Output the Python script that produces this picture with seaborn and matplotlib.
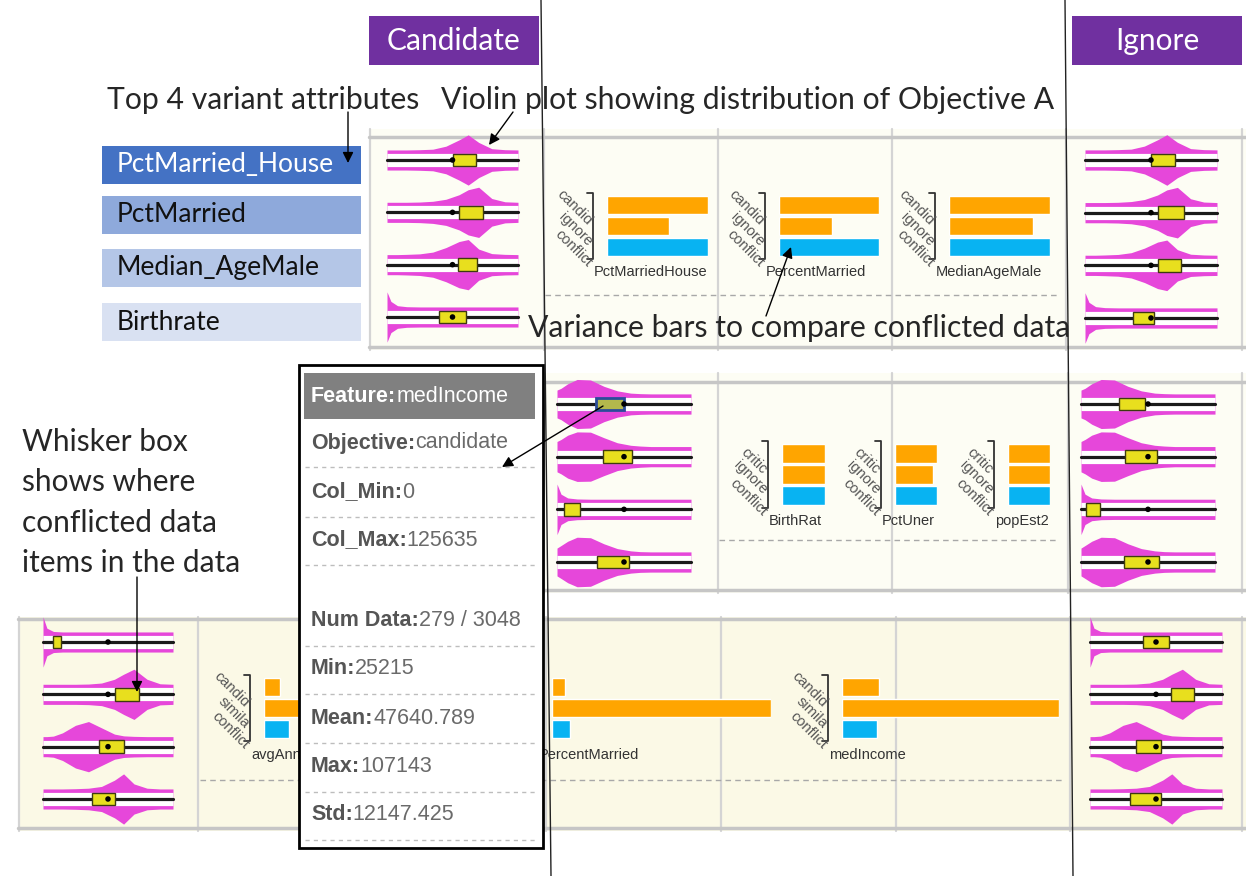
import numpy as np
import pandas as pd
import matplotlib
matplotlib.use('Agg')
import matplotlib.pyplot as plt
import matplotlib.transforms as mtransforms
from matplotlib.patches import Rectangle
import seaborn as sns

sns.set_theme(style='white')
plt.rcParams['font.family'] = ['Lato', 'DejaVu Sans']

W, H = 1246, 876
PINK = '#E647DA'
YELLOW = '#E8DF1E'
ORANGE = '#FFA500'
BLUE = '#08B3F2'
PURPLE = '#7030A0'
UI_FONT = ['Liberation Sans', 'DejaVu Sans']

# ---------------- data ----------------
top_attrs = ['PctMarried_House', 'PctMarried', 'Median_AgeMale', 'Birthrate']
attr_colors = ['#4472C4', '#8EA9DB', '#B4C6E7', '#D9E1F2']
attr_text = ['white', '#111111', '#111111', '#111111']

# density knots (fraction of attribute range) and relative violin widths
dens_x = [0, .03, .08, .15, .25, .35, .45, .55, .62, .7, .8, .9, 1.0]

dens_b1 = [
    [.40, .40, .40, .40, .41, .43, .55, .80, 1.0, .70, .45, .41, .40],
    [.40, .40, .40, .40, .41, .44, .52, .70, .90, 1.0, .55, .42, .40],
    [.40, .40, .40, .41, .43, .50, .68, .92, 1.0, .62, .44, .41, .40],
    [1.0, .62, .45, .41, .40, .40, .40, .40, .40, .40, .40, .40, .40],
]
dens_b2 = [
    [.55, .62, .80, .97, .95, .70, .52, .43, .41, .40, .40, .40, .40],
    [.60, .68, .85, .98, .97, .75, .55, .45, .42, .40, .40, .40, .40],
    [1.0, .60, .45, .41, .40, .40, .40, .40, .40, .40, .40, .40, .40],
    [.55, .65, .82, .98, .96, .72, .53, .44, .41, .40, .40, .40, .40],
]
dens_b3 = [
    [1.0, .55, .42, .40, .40, .40, .40, .40, .40, .40, .40, .40, .40],
    [.40, .40, .40, .40, .40, .41, .45, .60, .80, 1.0, .60, .42, .40],
    [.40, .40, .42, .55, .85, 1.0, .75, .50, .43, .41, .40, .40, .40],
    [.40, .40, .40, .40, .41, .43, .50, .75, 1.0, .60, .43, .40, .40],
]

# whisker boxes (q1, q3) and overall mean dot, candidate / ignore columns
q1_b1_cand = [.50, .55, .54, .40]
q3_b1_cand = [.68, .73, .69, .60]
q1_b1_ign = [.50, .55, .55, .36]
q3_b1_ign = [.68, .75, .73, .52]
q1_b2_cand = [.29, .34, .05, .30]
q3_b2_cand = [.50, .56, .17, .54]
q1_b2_ign = [.28, .33, .04, .32]
q3_b2_ign = [.48, .57, .14, .58]
q1_b3_cand = [.08, .55, .43, .38]
q3_b3_cand = [.14, .74, .62, .55]
q1_b3_ign = [.40, .61, .35, .30]
q3_b3_ign = [.60, .79, .54, .54]
mean_dot = [.50, .50, .50, .50]

# variance bars
bar_cats_1 = ['candid', 'ignore', 'conflict']
bar_names_1 = ['PctMarriedHouse', 'PercentMarried', 'MedianAgeMale']
bar_vals_1 = [[1.0, 0.61, 1.0], [1.0, 0.53, 1.0], [1.0, 0.83, 1.0]]
bar_cats_2 = ['critic', 'ignore', 'conflict']
bar_names_2 = ['BirthRat', 'PctUner', 'popEst2']
bar_vals_2 = [[1.0, 1.0, 1.0], [1.0, 0.91, 1.0], [1.0, 1.0, 1.0]]
bar_cats_3 = ['candid', 'simila', 'conflict']
bar_names_3 = ['avgAnn', 'PercentMarried', 'medIncome']
bar_vals_3 = [[0.075, 1.0, 0.115], [0.06, 1.0, 0.08], [0.17, 1.0, 0.16]]
bar_colors = [ORANGE, ORANGE, BLUE]

# tooltip
tip_feature = 'medIncome'
tip_labels = ['Objective:', 'Col_Min:', 'Col_Max:', 'Num Data:', 'Min:', 'Mean:', 'Max:', 'Std:']
tip_values = ['candidate', '0', '125635', '279 / 3048', '25215', '47640.789', '107143', '12147.425']

# ---------------- figure ----------------
fig = plt.figure(figsize=(W / 100, H / 100), dpi=100)


def px_axes(x0, y0, x1, y1, **kw):
    return fig.add_axes([x0 / W, 1 - y1 / H, (x1 - x0) / W, (y1 - y0) / H], **kw)


base = px_axes(0, 0, W, H, zorder=0)
base.set_xlim(0, W)
base.set_ylim(H, 0)
base.axis('off')

# panels: (x0, x1, y0, y1, top line, bottom line, bg, vertical grid)
panels = [
    (369, W, 129, 350, 137, 347, '#FDFDF4', [370, 544, 718, 892, 1066, 1242]),
    (545, W, 373, 593, 382, 590, '#FDFDF4', [544, 718, 892, 1068, 1242]),
    (18, W, 617, 831, 619, 828, '#FBF9E6', [19, 198, 372, 546, 721, 896, 1070, 1242]),
]
for x0, x1, y0, y1, lt, lb, bg, vx in panels:
    base.add_patch(Rectangle((x0, y0), x1 - x0, y1 - y0, facecolor=bg, edgecolor='none'))
    for xv in vx:
        base.plot([xv, xv], [y0, y1], color='#D4D4D4', lw=1.6)
    base.plot([x0, x1], [lt, lt], color='#C6C6C6', lw=2.5)
    base.plot([x0, x1], [lb, lb], color='#C6C6C6', lw=2.5)

for y, xa, xb in [(295, 545, 1057), (540, 719, 1057), (780, 200, 1063)]:
    base.plot([xa, xb], [y, y], color='#A8A8A8', lw=1, dashes=(4, 3))


def draw_violins(x0, x1, ytop, ybot, dens, q1, q3, mean, highlight=None):
    sp = (ybot - ytop) / 3
    ax = px_axes(x0, ytop - sp / 2, x1, ybot + sp / 2, zorder=2)
    for i, d in enumerate(dens):
        hw = np.array(d) * 0.48
        ax.fill_between(dens_x, i - hw, i + hw, color=PINK, lw=0, zorder=1, clip_on=False)
        ax.plot([0, 1], [i, i], color='white', lw=9.5, solid_capstyle='butt', zorder=2, clip_on=False)
        ax.plot([0, 1], [i, i], color='#1a1a1a', lw=2.3, zorder=3, clip_on=False)
    boxes = ax.barh(range(4), np.subtract(q3, q1), left=q1, height=0.24,
                    color=YELLOW, edgecolor='#3d3a10', lw=1, zorder=4)
    if highlight is not None:
        boxes[highlight].set_facecolor('#B3B84C')
        boxes[highlight].set_edgecolor('#2B4C9A')
        boxes[highlight].set_linewidth(2)
    sns.scatterplot(x=mean, y=list(range(4)), color='black', s=16, ax=ax, zorder=5,
                    edgecolor='none', legend=False)
    ax.set_xlim(0, 1)
    ax.set_ylim(3.5, -0.5)
    ax.axis('off')
    return ax


draw_violins(387, 518, 160, 317, dens_b1, q1_b1_cand, q3_b1_cand, mean_dot)
draw_violins(1085, 1217, 160, 318, dens_b1, q1_b1_ign, q3_b1_ign, mean_dot)
draw_violins(557, 691, 404, 562, dens_b2, q1_b2_cand, q3_b2_cand, mean_dot, highlight=0)
draw_violins(1081, 1215, 404, 562, dens_b2, q1_b2_ign, q3_b2_ign, mean_dot)
draw_violins(43, 173, 642, 799, dens_b3, q1_b3_cand, q3_b3_cand, mean_dot)
draw_violins(1090, 1222, 642, 799, dens_b3, q1_b3_ign, q3_b3_ign, mean_dot)


def draw_bars(x0, x1, y0, y1, cats, vals, name, label_y, clip=None):
    ax = px_axes(x0, y0, x1, y1, zorder=2)
    df = pd.DataFrame({'cat': cats, 'val': vals})
    sns.barplot(data=df, x='val', y='cat', hue='cat', palette=bar_colors, orient='h',
                width=0.88, saturation=1, legend=False, ax=ax)
    ax.set_xlim(0, 1)
    ax.set_ylim(2.5, -0.5)
    ax.set_axis_off()
    w = x1 - x0
    ax.plot([-20 / w, -14 / w, -14 / w, -20 / w], [1.03, 1.03, -0.03, -0.03],
            transform=ax.transAxes, color='#333333', lw=1.3, clip_on=False)
    tr = mtransforms.blended_transform_factory(ax.transAxes, ax.transData)
    for i, c in enumerate(cats):
        ax.text(-17 / w, i + 0.85, c, rotation=-45, rotation_mode='anchor', ha='right',
                va='center', transform=tr, fontsize=10.5, color='#555555', family=UI_FONT)
    t = base.text(x0 - 13, label_y, name, ha='left', va='center', fontsize=10.5,
                  color='#333333', family=UI_FONT)
    if clip is not None:
        t.set_clip_path(Rectangle((clip[0], label_y - 15), clip[1] - clip[0], 30,
                                  transform=base.transData))


for (xa, xb), v, n in zip([(607, 708), (779, 879), (949, 1050)], bar_vals_1, bar_names_1):
    draw_bars(xa, xb, 195, 257, bar_cats_1, v, n, 272,
              clip=(580, 708) if n == 'PctMarriedHouse' else None)
for (xa, xb), v, n in zip([(782, 825), (895, 937), (1008, 1050)], bar_vals_2, bar_names_2):
    draw_bars(xa, xb, 443, 506, bar_cats_2, v, n, 521)
for (xa, xb), v, n, cl in zip([(264, 482), (552, 771), (842, 1059)], bar_vals_3, bar_names_3,
                              [(200, 298), (544, 720), None]):
    draw_bars(xa, xb, 677, 739, bar_cats_3, v, n, 755, clip=cl)

# ---------------- overlay: annotations and tooltip ----------------
top = px_axes(0, 0, W, H, zorder=5)
top.set_xlim(0, W)
top.set_ylim(H, 0)
top.axis('off')
top.patch.set_alpha(0)

for xb, lab in [(369, 'Candidate'), (1072, 'Ignore')]:
    top.add_patch(Rectangle((xb, 16), 170, 49, facecolor=PURPLE, edgecolor='none'))
    top.text(xb + 85, 41, lab, color='white', fontsize=21.5, ha='center', va='center')

for i, (a, c, tc) in enumerate(zip(top_attrs, attr_colors, attr_text)):
    y = [146, 196, 249, 303][i]
    top.add_patch(Rectangle((102, y), 259, 38, facecolor=c, edgecolor='none'))
    top.text(117, y + 19, a, color=tc, fontsize=19, ha='left', va='center')

top.text(107, 100, 'Top 4 variant attributes', fontsize=21.7, ha='left', va='center')
top.text(441, 100, 'Violin plot showing distribution of Objective A', fontsize=21.7, ha='left', va='center')
top.text(528, 328, 'Variance bars to compare conflicted data', fontsize=21.7, ha='left', va='center')
for k, line in enumerate(['Whisker box', 'shows where', 'conflicted data', 'items in the data']):
    top.text(22, 442 + 40.3 * k, line, fontsize=21.5, ha='left', va='center')

# long separator lines
top.plot([541, 551], [0, H], color='#222222', lw=1)
top.plot([1065, 1073], [0, H], color='#222222', lw=1)

# tooltip
TIP_FS = 15.5
top.add_patch(Rectangle((299, 365), 244, 483, facecolor='white', edgecolor='black', lw=2))
top.add_patch(Rectangle((304, 373), 231, 46, facecolor='#808080', edgecolor='none'))
hd = top.text(311, 396, 'Feature:', color='white', fontsize=TIP_FS, weight='bold',
              ha='left', va='center', family=UI_FONT)
top.annotate(tip_feature, xy=(1, 0), xycoords=hd, ha='left', va='bottom', color='white',
             fontsize=TIP_FS, family=UI_FONT)
row_y = [443, 492, 540, 621, 669, 718, 766, 814]
for lab, val, y in zip(tip_labels, tip_values, row_y):
    t = top.text(311, y, lab, color='#555555', fontsize=TIP_FS, weight='bold', ha='left',
                 va='center', family=UI_FONT)
    top.annotate(val, xy=(1, 0), xycoords=t, ha='left', va='bottom', color='#6A6A6A',
                 fontsize=TIP_FS, family=UI_FONT)
for y in [467, 517, 565, 646, 694, 743, 792, 840]:
    top.plot([305, 535], [y, y], color='#BDBDBD', lw=1, dashes=(3, 3))

# arrows
arrow = dict(arrowstyle='-|>', color='black', lw=1, mutation_scale=16, shrinkA=0, shrinkB=0)
top.annotate('', xy=(348, 163), xytext=(348, 112), arrowprops=arrow)
top.annotate('', xy=(489, 145), xytext=(513, 112), arrowprops=arrow)
top.annotate('', xy=(791, 247), xytext=(766, 316), arrowprops=arrow)
top.annotate('', xy=(137, 692), xytext=(137, 577), arrowprops=arrow)
top.annotate('', xy=(502, 467), xytext=(603, 406), arrowprops=arrow)

fig.savefig('out.png', dpi=100)
